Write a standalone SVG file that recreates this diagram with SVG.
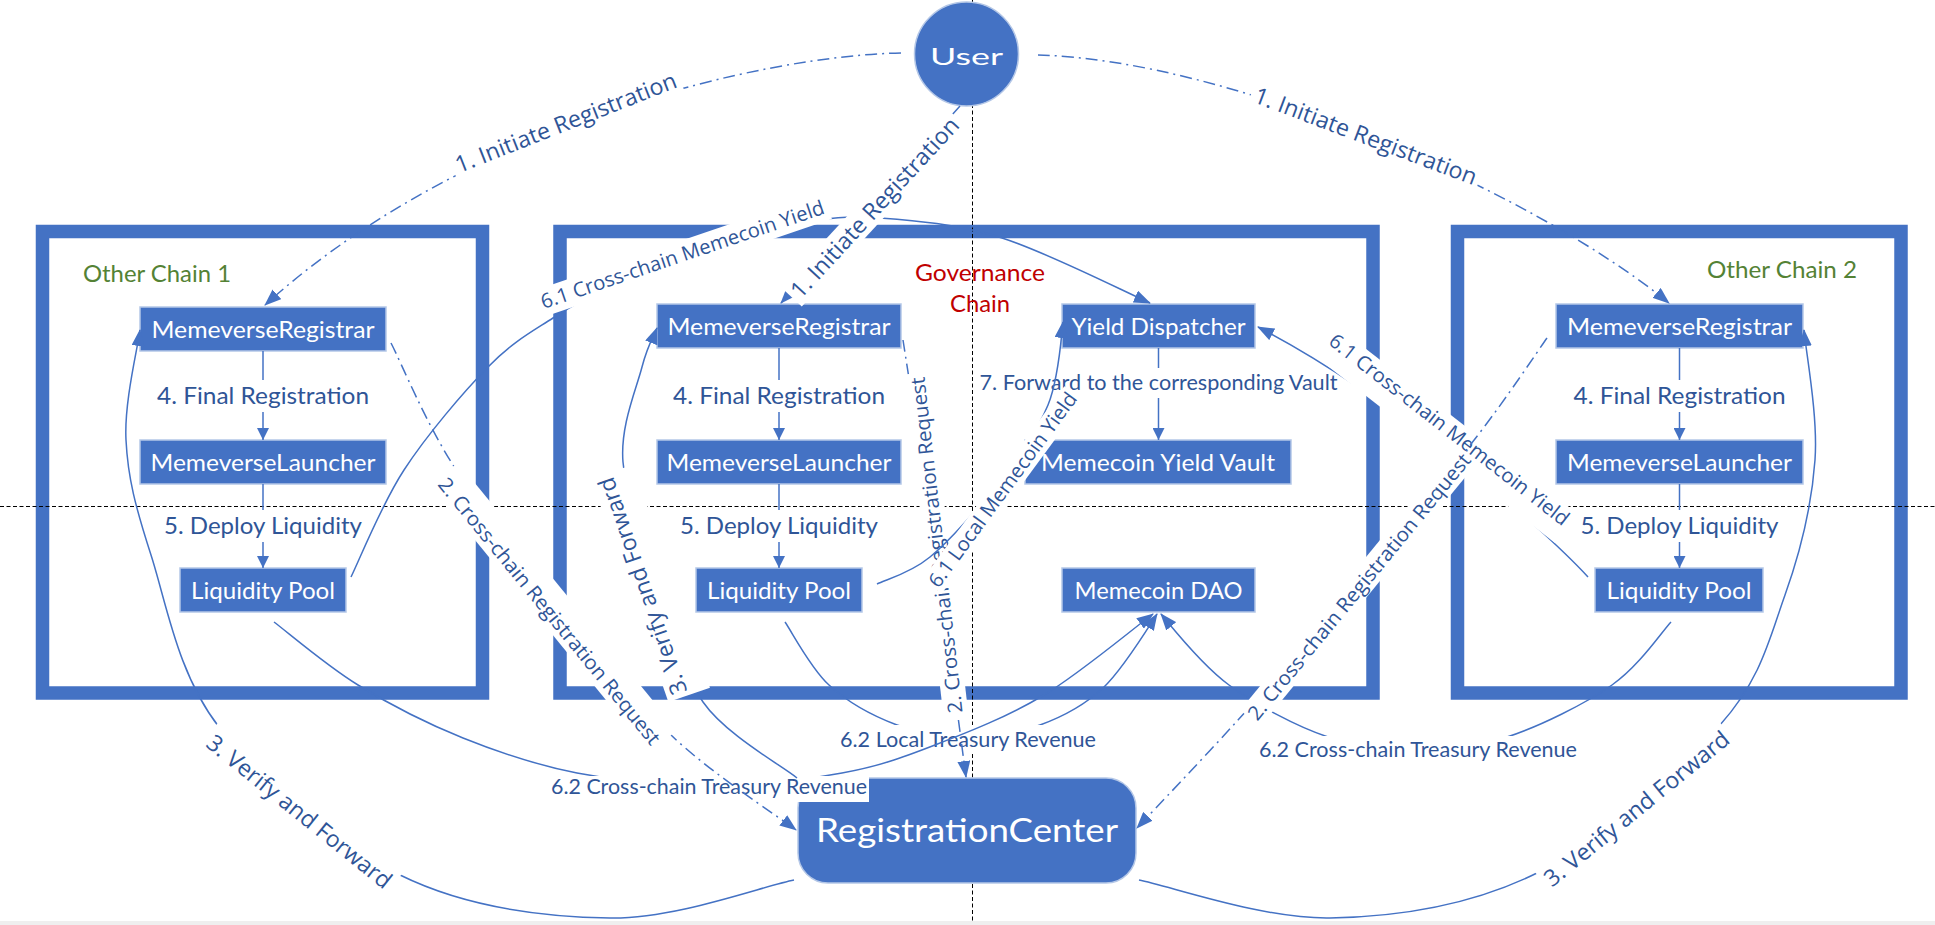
<svg xmlns="http://www.w3.org/2000/svg" width="1935" height="925" viewBox="0 0 1935 925">
<defs>
<style>
.frame{fill:none;stroke:#4472C4;stroke-width:13.5}
.guide{fill:none;stroke:#000;stroke-width:1;stroke-dasharray:4 2.5}
.node{fill:#4472C4;stroke:#B4C7E7;stroke-width:1.5}
.nt{font-family:Lato,"Noto Sans",sans-serif;font-size:24px;fill:#fff;text-anchor:middle}
.ln{fill:none;stroke:#4472C4;stroke-width:1.5}
.dd{stroke-dasharray:12 5 2 5}
.lbl{font-family:Lato,"Noto Sans",sans-serif;fill:#2F5597;text-anchor:middle}
.rl{font-family:"Open Sans","Noto Sans",sans-serif;fill:#2F5597;text-anchor:middle}
.bg{fill:#fff}
</style>
<marker id="ah" viewBox="0 0 17 13" refX="16" refY="6.5" markerWidth="17" markerHeight="13" markerUnits="userSpaceOnUse" orient="auto"><path d="M0,0 L17,6.5 L0,13 Z" fill="#4472C4"/></marker>
<marker id="as" viewBox="0 0 12 12" refX="12" refY="6" markerWidth="12" markerHeight="12" markerUnits="userSpaceOnUse" orient="auto"><path d="M0,0 L12,6 L0,12 Z" fill="#4472C4"/></marker>
</defs>
<rect x="0" y="0" width="1935" height="925" fill="#fff"/>
<rect x="0" y="921" width="1935" height="4" fill="#EFEFEF"/>

<g id="frames">
<rect class="frame" x="42.5" y="231.5" width="440" height="461.5"/>
<rect class="frame" x="560" y="231.5" width="813" height="461.5"/>
<rect class="frame" x="1457.5" y="231.5" width="443.5" height="461.5"/>
</g>

<g id="guides">
<line class="guide" x1="972.5" y1="0" x2="972.5" y2="921"/>
<line class="guide" x1="0" y1="506.5" x2="1935" y2="506.5"/>
</g>

<g id="chain-labels">
<text x="83" y="282" font-family="Lato,'Noto Sans',sans-serif" font-size="24" fill="#548235" textLength="148" lengthAdjust="spacingAndGlyphs">Other Chain 1</text>
<text x="1707" y="278" font-family="Lato,'Noto Sans',sans-serif" font-size="24" fill="#548235" textLength="150" lengthAdjust="spacingAndGlyphs">Other Chain 2</text>
<text x="980" y="280.5" font-family="Lato,'Noto Sans',sans-serif" font-size="24" fill="#C00000" text-anchor="middle" textLength="130" lengthAdjust="spacingAndGlyphs">Governance</text>
<text x="980" y="311.5" font-family="Lato,'Noto Sans',sans-serif" font-size="24" fill="#C00000" text-anchor="middle" textLength="60" lengthAdjust="spacingAndGlyphs">Chain</text>
</g>

<g id="user"><circle cx="966.5" cy="54" r="52" class="node"/><text class="nt" x="966.5" y="65" font-size="34" textLength="73" lengthAdjust="spacingAndGlyphs">User</text></g>
<g id="registration-center"><rect class="node" x="798" y="778" width="338" height="105" rx="30"/><text class="nt" x="967" y="842" style="font-size:33px" textLength="302" lengthAdjust="spacingAndGlyphs">RegistrationCenter</text></g>

<g id="oc1-registrar"><rect class="node" x="140" y="307" width="246" height="44"/><text class="nt" x="263" y="337.5" textLength="223" lengthAdjust="spacingAndGlyphs">MemeverseRegistrar</text></g>
<g id="oc1-launcher"><rect class="node" x="140" y="440" width="246" height="44"/><text class="nt" x="263" y="470.5" textLength="225" lengthAdjust="spacingAndGlyphs">MemeverseLauncher</text></g>
<g id="oc1-pool"><rect class="node" x="180" y="568" width="166" height="44"/><text class="nt" x="263" y="598.5" textLength="144" lengthAdjust="spacingAndGlyphs">Liquidity Pool</text></g>

<g id="gov-registrar"><rect class="node" x="657" y="304" width="244" height="44"/><text class="nt" x="779" y="334.5" textLength="223" lengthAdjust="spacingAndGlyphs">MemeverseRegistrar</text></g>
<g id="gov-launcher"><rect class="node" x="657" y="440" width="244" height="44"/><text class="nt" x="779" y="470.5" textLength="225" lengthAdjust="spacingAndGlyphs">MemeverseLauncher</text></g>
<g id="gov-pool"><rect class="node" x="696" y="568" width="166" height="44"/><text class="nt" x="779" y="598.5" textLength="144" lengthAdjust="spacingAndGlyphs">Liquidity Pool</text></g>
<g id="yield-dispatcher"><rect class="node" x="1062" y="304" width="193" height="44"/><text class="nt" x="1158.5" y="334.5" textLength="174" lengthAdjust="spacingAndGlyphs">Yield Dispatcher</text></g>
<g id="yield-vault"><rect class="node" x="1025" y="440" width="266" height="44"/><text class="nt" x="1158" y="470.5" textLength="234" lengthAdjust="spacingAndGlyphs">Memecoin Yield Vault</text></g>
<g id="memecoin-dao"><rect class="node" x="1062" y="568" width="193" height="44"/><text class="nt" x="1158.5" y="598.5" textLength="168" lengthAdjust="spacingAndGlyphs">Memecoin DAO</text></g>

<g id="oc2-registrar"><rect class="node" x="1556" y="304" width="247" height="44"/><text class="nt" x="1679.5" y="334.5" textLength="225" lengthAdjust="spacingAndGlyphs">MemeverseRegistrar</text></g>
<g id="oc2-launcher"><rect class="node" x="1556" y="440" width="247" height="44"/><text class="nt" x="1679.5" y="470.5" textLength="225" lengthAdjust="spacingAndGlyphs">MemeverseLauncher</text></g>
<g id="oc2-pool"><rect class="node" x="1595" y="568" width="168" height="44"/><text class="nt" x="1679" y="598.5" textLength="145" lengthAdjust="spacingAndGlyphs">Liquidity Pool</text></g>

<g id="connectors">
<!-- 4 / 5 / 7 -->
<path class="ln" d="M263,351 L263,440" marker-end="url(#as)"/>
<rect class="bg" x="153" y="380" width="220" height="32"/>
<text class="lbl" x="263" y="403.5" font-size="24" textLength="212" lengthAdjust="spacingAndGlyphs">4. Final Registration</text>
<path class="ln" d="M263,484 L263,568" marker-end="url(#as)"/>
<rect class="bg" x="160" y="510" width="206" height="32"/>
<text class="lbl" x="263" y="534" font-size="24" textLength="198" lengthAdjust="spacingAndGlyphs">5. Deploy Liquidity</text>

<path class="ln" d="M779,348 L779,440" marker-end="url(#as)"/>
<rect class="bg" x="669" y="380" width="220" height="32"/>
<text class="lbl" x="779" y="403.5" font-size="24" textLength="212" lengthAdjust="spacingAndGlyphs">4. Final Registration</text>
<path class="ln" d="M779,484 L779,568" marker-end="url(#as)"/>
<rect class="bg" x="676" y="510" width="206" height="32"/>
<text class="lbl" x="779" y="534" font-size="24" textLength="198" lengthAdjust="spacingAndGlyphs">5. Deploy Liquidity</text>

<path class="ln" d="M1679.5,348 L1679.5,440" marker-end="url(#as)"/>
<rect class="bg" x="1569.5" y="380" width="220" height="32"/>
<text class="lbl" x="1679.5" y="403.5" font-size="24" textLength="212" lengthAdjust="spacingAndGlyphs">4. Final Registration</text>
<path class="ln" d="M1679.5,484 L1679.5,568" marker-end="url(#as)"/>
<rect class="bg" x="1576.5" y="510" width="206" height="32"/>
<text class="lbl" x="1679.5" y="534" font-size="24" textLength="198" lengthAdjust="spacingAndGlyphs">5. Deploy Liquidity</text>

<path class="ln" d="M1158.5,348 L1158.5,440" marker-end="url(#as)"/>
<rect class="bg" x="976" y="368" width="365" height="30"/>
<text class="lbl" x="1158.5" y="390" font-size="21" textLength="358" lengthAdjust="spacingAndGlyphs">7. Forward to the corresponding Vault</text>

<!-- 6.2 -->
<path class="ln" d="M785,622 C792.3,632.5 810.3,667.8 829,685 C847.7,702.2 873.8,716.3 897,725 C920.2,733.7 944.2,737 968,737 C991.8,737 1017.5,733.2 1040,725 C1062.5,716.8 1083.5,706.2 1103,688 C1122.5,669.8 1148,628 1157,614" marker-end="url(#ah)"/>
<rect class="bg" x="836" y="725" width="264" height="28"/>
<text class="lbl" x="968" y="747" font-size="21" textLength="256" lengthAdjust="spacingAndGlyphs">6.2 Local Treasury Revenue</text>

<path class="ln" d="M1671,622 C1661.2,632.5 1639.3,665.8 1612,685 C1584.7,704.2 1539.3,726.5 1507,737 C1474.7,747.5 1447.8,748 1418,748 C1388.2,748 1359.5,747.5 1328,737 C1296.5,726.5 1256.8,705.2 1229,685 C1201.2,664.8 1172.3,627.5 1161,614" marker-end="url(#ah)"/>
<rect class="bg" x="1255" y="736" width="326" height="27"/>
<text class="lbl" x="1418" y="757" font-size="21" textLength="318" lengthAdjust="spacingAndGlyphs">6.2 Cross-chain Treasury Revenue</text>

<path class="ln" d="M274,622 C288,632.5 326.5,665.7 358,685 C389.5,704.3 426.5,723.3 463,738 C499.5,752.7 536,765 577,773 C618,781 664.8,786 709,786 C753.2,786 804.3,779.8 842,773 C879.7,766.2 901.3,758 935,745 C968.7,732 1008.2,716.5 1044,695 C1079.8,673.5 1132.3,629.2 1153,614" marker-end="url(#ah)"/>
<rect class="bg" x="548" y="776" width="321" height="26"/>
<text class="lbl" x="709" y="794" font-size="21" textLength="316" lengthAdjust="spacingAndGlyphs">6.2 Cross-chain Treasury Revenue</text>

<!-- 2 gov -->
<path class="ln dd" d="M903,340 C908.3,374.5 924.5,474.2 935,547 C945.5,619.8 960.8,738.7 966,777" marker-end="url(#ah)"/>
<g transform="translate(937,545) rotate(-96.5)"><rect class="bg" x="-173" y="-13" width="346" height="25"/><text class="rl" y="6.5" font-size="20" textLength="338" lengthAdjust="spacingAndGlyphs">2. Cross-chain Registration Request</text></g>

<!-- 6.1 local -->
<path class="ln" d="M877,584 C885.8,579.5 909.8,573.8 930,557 C950.2,540.2 978.3,508.3 998,483 C1017.7,457.7 1037,431.8 1048,405 C1059,378.2 1061.3,335.8 1063,322" marker-end="url(#ah)"/>
<g transform="translate(1003,490) rotate(-53.7)"><rect class="bg" x="-120" y="-12" width="240" height="24"/><text class="rl" y="6.5" font-size="20" textLength="236" lengthAdjust="spacingAndGlyphs">6.1 Local Memecoin Yield</text></g>

<!-- 3 gov -->
<path class="ln" d="M797,778 C781.3,765.3 725.8,734.7 703,702 C680.2,669.3 673.3,622 660,582 C646.7,542 626,497.8 623,462 C620,426.2 636.3,389.3 642,367 C647.7,344.7 654.5,334.5 657,328" marker-end="url(#ah)"/>
<g transform="translate(643,586) rotate(-109.1)"><rect class="bg" x="-118" y="-14" width="236" height="44"/><text class="rl" y="7.5" font-size="23" textLength="228" lengthAdjust="spacingAndGlyphs">3. Verify and Forward</text></g>

<!-- 2 left -->
<path class="ln dd" d="M391,343 C401.7,363.8 426.7,425 455,468 C483.3,511 525.2,556.7 561,601 C596.8,645.3 630.8,695.8 670,734 C709.2,772.2 775,814 796,830" marker-end="url(#ah)"/>
<g transform="translate(549,611.5) rotate(50.7)"><rect class="bg" x="-173" y="-24" width="346" height="36"/><text class="rl" y="6.5" font-size="20" textLength="338" lengthAdjust="spacingAndGlyphs">2. Cross-chain Registration Request</text></g>

<!-- 6.1 cross-chain left -->
<path class="ln" d="M351,577 C359.8,559.2 381.2,505 404,470 C426.8,435 463.2,392.3 488,367 C512.8,341.7 531,332.3 553,318 C575,303.7 595.5,292.7 620,281 C644.5,269.3 670.2,257.7 700,248 C729.8,238.3 769,228 799,223 C829,218 846.2,215.5 880,218 C913.8,220.5 957,223.8 1002,238 C1047,252.2 1125.3,292.2 1150,303" marker-end="url(#ah)"/>
<g transform="translate(682.5,255) rotate(-18.75)"><rect class="bg" x="-153" y="-14" width="306" height="28"/><text class="rl" y="6.5" font-size="20" textLength="298" lengthAdjust="spacingAndGlyphs">6.1 Cross-chain Memecoin Yield</text></g>

<!-- 1 gov -->
<path class="ln dd" d="M960,106 L781,303" marker-end="url(#ah)"/>
<g transform="translate(875,208) rotate(-47.3)"><rect class="bg" x="-122" y="-15" width="244" height="28"/><text class="rl" y="7.5" font-size="23" textLength="236" lengthAdjust="spacingAndGlyphs">1. Initiate Registration</text></g>

<!-- 1 left / right -->
<path class="ln dd" d="M901,53 C770,55 470,120 265,305" marker-end="url(#ah)"/>
<g transform="translate(566,123) rotate(-21.5)"><rect class="bg" x="-122" y="-15" width="244" height="28"/><text class="rl" y="7.5" font-size="23" textLength="236" lengthAdjust="spacingAndGlyphs">1. Initiate Registration</text></g>
<path class="ln dd" d="M1038,55 C1230,60 1530,190 1669,303" marker-end="url(#ah)"/>
<g transform="translate(1365.5,136.5) rotate(20.7)"><rect class="bg" x="-122" y="-15" width="244" height="28"/><text class="rl" y="7.5" font-size="23" textLength="236" lengthAdjust="spacingAndGlyphs">1. Initiate Registration</text></g>

<!-- 6.1 cross-chain right -->
<path class="ln" d="M1588,577 C1540,525 1390,395 1258,327" marker-end="url(#ah)"/>
<g transform="translate(1449,430) rotate(37.9)"><rect class="bg" x="-153" y="-13" width="306" height="37"/><text class="rl" y="6.5" font-size="20" textLength="298" lengthAdjust="spacingAndGlyphs">6.1 Cross-chain Memecoin Yield</text></g>

<!-- 2 right -->
<path class="ln dd" d="M1547,338 C1535.5,354.2 1509.7,393.8 1478,435 C1446.3,476.2 1397,537.5 1357,585 C1317,632.5 1274.7,679.5 1238,720 C1201.3,760.5 1153.8,810 1137,828" marker-end="url(#ah)"/>
<g transform="translate(1359.5,587) rotate(-50.6)"><rect class="bg" x="-171" y="-14" width="342" height="26"/><text class="rl" y="6.5" font-size="20" textLength="338" lengthAdjust="spacingAndGlyphs">2. Cross-chain Registration Request</text></g>

<!-- 3 left / right -->
<path class="ln" d="M794,880 C763,886 676,919 610,918 C544,917 465,907 400,875 C335,843 260.5,780 219,727 C177.5,674 166.5,603 151,555 C135.5,507 127.8,477.5 126,440 C124,402.5 137.7,348 140,330" marker-end="url(#ah)"/>
<g transform="translate(299,812) rotate(38.8)"><rect class="bg" x="-119" y="-30" width="238" height="44"/><text class="rl" y="7.5" font-size="23" textLength="230" lengthAdjust="spacingAndGlyphs">3. Verify and Forward</text></g>
<path class="ln" d="M1139,880 C1170.8,886.3 1263.7,919.2 1330,918 C1396.3,916.8 1472,905.2 1537,873 C1602,840.8 1678.7,771.3 1720,725 C1761.3,678.7 1769.2,639.2 1785,595 C1800.8,550.8 1811.8,504.2 1815,460 C1818.2,415.8 1805.8,351.7 1804,330" marker-end="url(#ah)"/>
<g transform="translate(1637,809) rotate(-39.1)"><rect class="bg" x="-119" y="-27" width="238" height="41"/><text class="rl" y="7.5" font-size="23" textLength="231" lengthAdjust="spacingAndGlyphs">3. Verify and Forward</text></g>
</g>
</svg>
